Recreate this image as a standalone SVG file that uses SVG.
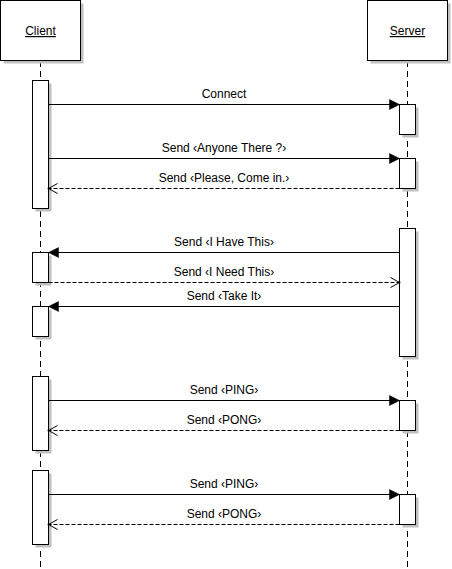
<svg xmlns="http://www.w3.org/2000/svg" width="452" height="569" viewBox="0 0 452 569">
<style>
text{font-family:"Liberation Sans",Arial,sans-serif;font-size:12px;fill:#000;text-anchor:middle}
.box{fill:#fff;stroke:#000;stroke-width:1}
.sh{fill:#c0c0c0;stroke:none}
.life{stroke:#000;stroke-width:1;stroke-dasharray:6,4;fill:none}
.msg{stroke:#000;stroke-width:1;fill:none}
.call{marker-end:url(#filled)}
.ret{stroke-dasharray:4,2;marker-end:url(#open)}
</style>
<defs>
<marker id="filled" markerUnits="userSpaceOnUse" markerWidth="11" markerHeight="11" refX="10" refY="5" orient="auto" overflow="visible">
<path d="M0,0 L10,5 L0,10 Z" fill="#000" stroke="#000" stroke-width="0.5"/>
</marker>
<marker id="open" markerUnits="userSpaceOnUse" markerWidth="11" markerHeight="11" refX="9" refY="5" orient="auto" overflow="visible">
<path d="M0,0 L9,5 L0,10" fill="none" stroke="#000" stroke-width="1"/>
<circle cx="9" cy="5" r="1" fill="#000"/>
</marker>
</defs>
<g id="lifelines">
<line class="life" x1="40.5" y1="61" x2="40.5" y2="569"/>
<line class="life" x1="407.5" y1="61" x2="407.5" y2="569"/>
</g>
<g id="client">
<rect class="sh" x="3.5" y="3.5" width="80" height="60"/>
<rect class="box" x="0.5" y="0.5" width="80" height="60"/>
<text x="40.5" y="35" text-decoration="underline">Client</text>
</g>
<g id="server">
<rect class="sh" x="370.5" y="3.5" width="80" height="60"/>
<rect class="box" x="367.5" y="0.5" width="80" height="60"/>
<text x="407.5" y="35" text-decoration="underline">Server</text>
</g>
<g id="client-activations">
<rect class="sh" x="35.5" y="83.5" width="16" height="128"/>
<rect class="box" x="32.5" y="80.5" width="16" height="128"/>
<rect class="sh" x="35.5" y="255.5" width="16" height="30"/>
<rect class="box" x="32.5" y="252.5" width="16" height="30"/>
<rect class="sh" x="35.5" y="309.5" width="16" height="30"/>
<rect class="box" x="32.5" y="306.5" width="16" height="30"/>
<rect class="sh" x="35.5" y="379.5" width="16" height="74"/>
<rect class="box" x="32.5" y="376.5" width="16" height="74"/>
<rect class="sh" x="35.5" y="473.5" width="16" height="74"/>
<rect class="box" x="32.5" y="470.5" width="16" height="74"/>
</g>
<g id="server-activations">
<rect class="sh" x="402.5" y="107.5" width="16" height="30"/>
<rect class="box" x="399.5" y="104.5" width="16" height="30"/>
<rect class="sh" x="402.5" y="161.5" width="16" height="30"/>
<rect class="box" x="399.5" y="158.5" width="16" height="30"/>
<rect class="sh" x="402.5" y="231.5" width="16" height="128"/>
<rect class="box" x="399.5" y="228.5" width="16" height="128"/>
<rect class="sh" x="402.5" y="403.5" width="16" height="30"/>
<rect class="box" x="399.5" y="400.5" width="16" height="30"/>
<rect class="sh" x="402.5" y="497.5" width="16" height="30"/>
<rect class="box" x="399.5" y="494.5" width="16" height="30"/>
</g>
<g id="connectors">
<line class="msg call" x1="48.5" y1="104.5" x2="399.5" y2="104.5"/>
<line class="msg call" x1="48.5" y1="158.5" x2="399.5" y2="158.5"/>
<line class="msg ret" x1="399.5" y1="188.5" x2="48.5" y2="188.5"/>
<line class="msg call" x1="399.5" y1="252.5" x2="48.5" y2="252.5"/>
<line class="msg ret" x1="48.5" y1="282.5" x2="399.5" y2="282.5"/>
<line class="msg call" x1="399.5" y1="306.5" x2="48.5" y2="306.5"/>
<line class="msg call" x1="48.5" y1="400.5" x2="399.5" y2="400.5"/>
<line class="msg ret" x1="399.5" y1="430.5" x2="48.5" y2="430.5"/>
<line class="msg call" x1="48.5" y1="494.5" x2="399.5" y2="494.5"/>
<line class="msg ret" x1="399.5" y1="524.5" x2="48.5" y2="524.5"/>
</g>
<g id="labels">
<text x="224" y="98">Connect</text>
<text x="224" y="152">Send ‹Anyone There ?›</text>
<text x="224" y="182">Send ‹Please, Come in.›</text>
<text x="224" y="246">Send ‹I Have This›</text>
<text x="224" y="276">Send ‹I Need This›</text>
<text x="224" y="300">Send ‹Take It›</text>
<text x="224" y="394">Send ‹PING›</text>
<text x="224" y="424">Send ‹PONG›</text>
<text x="224" y="488">Send ‹PING›</text>
<text x="224" y="518">Send ‹PONG›</text>
</g>
</svg>
